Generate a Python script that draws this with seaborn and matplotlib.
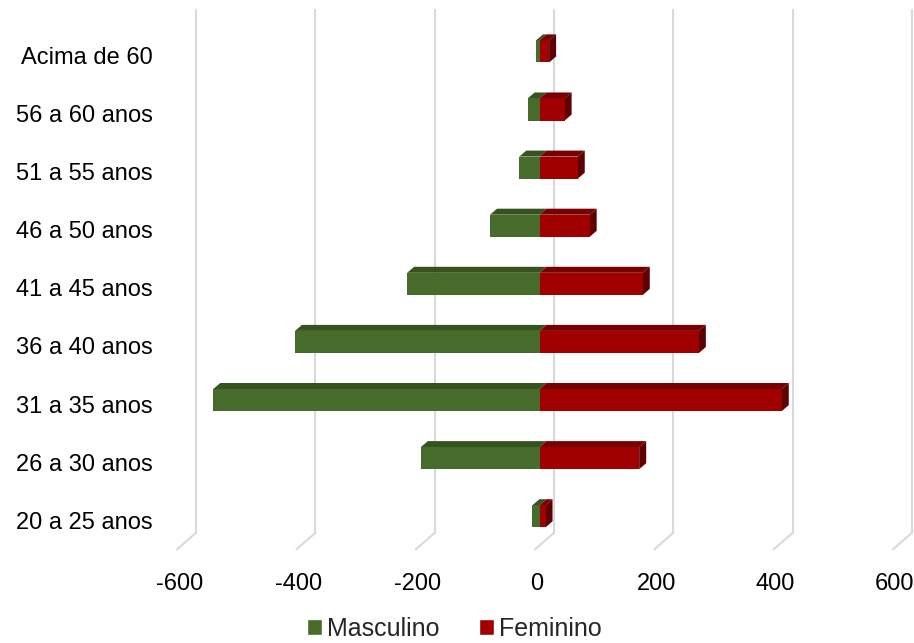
import numpy as np
import pandas as pd
import matplotlib
matplotlib.use('Agg')
import matplotlib.pyplot as plt
import matplotlib.transforms as mtransforms
from matplotlib.patches import Patch, Polygon
import seaborn as sns

# ==========================================
# DATA
# ==========================================
AGE_GROUPS = ['Acima de 60', '56 a 60 anos', '51 a 55 anos', '46 a 50 anos',
              '41 a 45 anos', '36 a 40 anos', '31 a 35 anos', '26 a 30 anos',
              '20 a 25 anos']
MASCULINO = [6, 20, 34, 83, 222, 410, 547, 199, 12]
FEMININO = [16, 42, 64, 84, 173, 267, 406, 167, 10]
X_TICKS = [-600, -400, -200, 0, 200, 400, 600]

# colours (front / top / side faces)
GREEN, GREEN_TOP = '#476b2b', '#36521f'
RED, RED_TOP, RED_SIDE = '#a00000', '#780000', '#5c0000'
GRID = '#d9d9d9'

sns.set_theme(style='white')
plt.rcParams['font.family'] = ['Liberation Sans', 'DejaVu Sans']

df = pd.DataFrame({
    'faixa': AGE_GROUPS,
    'Masculino': [-v for v in MASCULINO],   # men drawn to the left
    'Feminino': FEMININO,
})

fig = plt.figure(figsize=(9.14, 6.43), dpi=100)
ax = fig.add_axes([0.1960, 0.1457, 0.7832, 0.8133])
ax.set_xlim(-600, 600)

# bar front plane sits slightly in front of/above the floor edge
front = mtransforms.offset_copy(ax.transData, fig=fig, x=2.5, y=4, units='dots')


def draw_bars(col, color):
    n0 = len(ax.patches)
    sns.barplot(data=df, x=col, y='faixa', order=AGE_GROUPS, color=color,
                saturation=1, width=0.38, orient='h', ax=ax)
    bars = ax.patches[n0:]
    for p in bars:
        p.set_transform(front)
        p.set_zorder(3)
        p.set_linewidth(0)
    return bars


male_bars = draw_bars('Masculino', GREEN)
female_bars = draw_bars('Feminino', RED)

ax.set_xlim(-600, 600)
ax.set_ylim(8.5, -0.5)

# depth of the 3D bars: 7 px right, 6 px up -> data units
inv = ax.transData.inverted()
d0 = inv.transform((0, 0))
d1 = inv.transform((7, 6))
ddx, ddy = d1 - d0


def add_faces(bars, top_color, side_color=None):
    for p in bars:
        x, w = p.get_x(), p.get_width()
        xl, xr = min(x, x + w), max(x, x + w)
        yt = min(p.get_y(), p.get_y() + p.get_height())
        yb = max(p.get_y(), p.get_y() + p.get_height())
        top = [(xl, yt), (xr, yt), (xr + ddx, yt + ddy), (xl + ddx, yt + ddy)]
        ax.add_patch(Polygon(top, closed=True, facecolor=top_color, lw=0,
                             transform=front, zorder=2.5))
        if side_color:
            side = [(xr, yt), (xr + ddx, yt + ddy), (xr + ddx, yb + ddy), (xr, yb)]
            ax.add_patch(Polygon(side, closed=True, facecolor=side_color, lw=0,
                                 transform=front, zorder=2.5))


add_faces(male_bars, GREEN_TOP)
add_faces(female_bars, RED_TOP, RED_SIDE)

# back-wall gridlines + floor slants
back = mtransforms.offset_copy(ax.transData, fig=fig, x=17, y=16.6, units='dots')
for v in X_TICKS:
    ax.plot([v, v], [8.5, -0.5], transform=back, color=GRID, lw=1.5,
            clip_on=False, zorder=1)
    floor = mtransforms.ScaledTranslation(v, 8.5, ax.transData)
    ax.plot([17, -2], [16.6, 0], transform=floor, color=GRID, lw=1.5,
            clip_on=False, zorder=1)

ax.set_xlim(-600, 600)
ax.set_ylim(8.5, -0.5)
ax.set_xticks(X_TICKS, labels=[str(v) for v in X_TICKS])
ax.set_xlabel('')
ax.set_ylabel('')
ax.tick_params(axis='both', length=0, labelsize=17, labelcolor='black')
ax.tick_params(axis='x', pad=17)
ax.tick_params(axis='y', pad=19)
ax.grid(False)
for s in ax.spines.values():
    s.set_visible(False)
ax.patch.set_alpha(0)

handles = [Patch(facecolor=GREEN, label='Masculino'),
           Patch(facecolor=RED, label='Feminino')]
fig.legend(handles=handles, loc='center', bbox_to_anchor=(0.497, 0.022), ncol=2,
           frameon=False, fontsize=18, handlelength=0.6, handleheight=0.6,
           handletextpad=0.2, columnspacing=1.6, borderpad=0.1)

fig.savefig('out.png', dpi=100)
